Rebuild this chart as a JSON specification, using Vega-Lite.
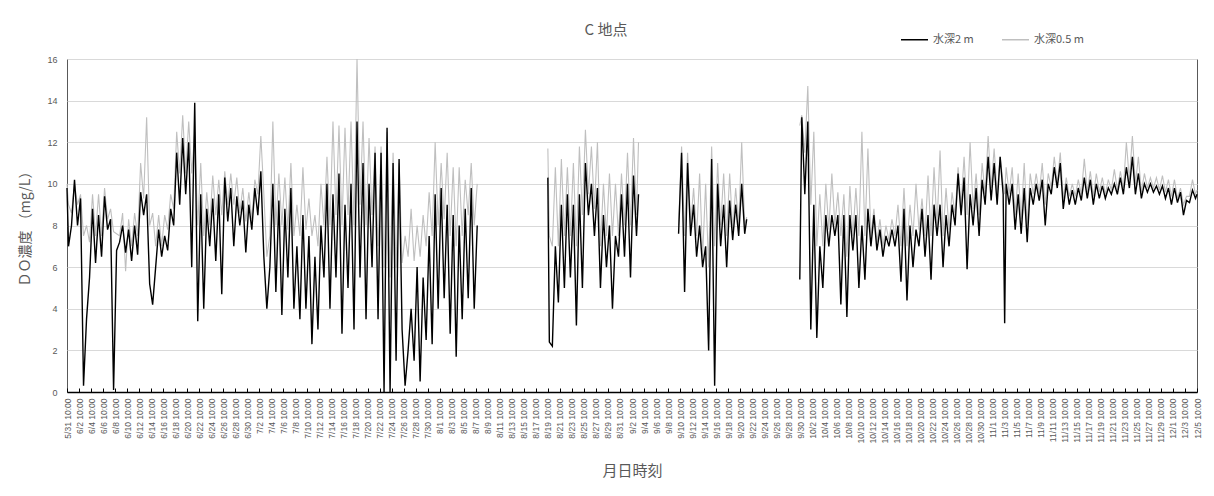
{
"$schema":"https://vega.github.io/schema/vega-lite/v6.json",
"width":1130,"height":333,
"autosize":{"type":"none"},
"padding":{"left":67,"top":59,"right":17,"bottom":104},
"background":"white",
"title":{"text":"C 地点","fontSize":15,"font":"Noto Sans CJK JP","fontWeight":"normal","color":"#595959","anchor":"middle","frame":"group","dx":-26,"dy":34,"offset":21},
"config":{"view":{"stroke":"#595959","strokeWidth":1},"font":"Noto Sans CJK JP"},
"data":{"values":[
{"t":"2021-05-31T10:00Z","m2":9.8,"m05":10.0},{"t":"2021-05-31T16:00Z","m2":7.0,"m05":9.0},
{"t":"2021-06-01T04:00Z","m2":8.0,"m05":8.6},{"t":"2021-06-01T16:00Z","m2":10.2,"m05":10.0},
{"t":"2021-06-02T04:00Z","m2":8.0,"m05":9.0},{"t":"2021-06-02T16:00Z","m2":9.3,"m05":9.5},
{"t":"2021-06-03T04:00Z","m2":0.3,"m05":7.5},{"t":"2021-06-03T16:00Z","m2":3.5,"m05":8.0},
{"t":"2021-06-04T04:00Z","m2":5.5,"m05":7.2},{"t":"2021-06-04T16:00Z","m2":8.8,"m05":9.5},
{"t":"2021-06-05T04:00Z","m2":6.2,"m05":7.5},{"t":"2021-06-05T16:00Z","m2":8.5,"m05":9.5},
{"t":"2021-06-06T04:00Z","m2":6.5,"m05":7.5},{"t":"2021-06-06T16:00Z","m2":9.4,"m05":9.8},
{"t":"2021-06-07T04:00Z","m2":7.8,"m05":8.3},{"t":"2021-06-07T16:00Z","m2":8.3,"m05":8.8},
{"t":"2021-06-08T04:00Z","m2":0.1,"m05":7.7},{"t":"2021-06-08T16:00Z","m2":6.8,"m05":7.6},
{"t":"2021-06-09T04:00Z","m2":7.2,"m05":7.5},{"t":"2021-06-09T16:00Z","m2":8.0,"m05":8.6},
{"t":"2021-06-10T04:00Z","m2":6.7,"m05":5.8},{"t":"2021-06-10T16:00Z","m2":7.8,"m05":8.3},
{"t":"2021-06-11T04:00Z","m2":6.3,"m05":7.0},{"t":"2021-06-11T16:00Z","m2":8.0,"m05":8.6},
{"t":"2021-06-12T04:00Z","m2":6.6,"m05":7.5},{"t":"2021-06-12T16:00Z","m2":9.6,"m05":11.0},
{"t":"2021-06-13T04:00Z","m2":8.5,"m05":9.3},{"t":"2021-06-13T16:00Z","m2":9.5,"m05":13.2},
{"t":"2021-06-14T04:00Z","m2":5.2,"m05":8.0},{"t":"2021-06-14T16:00Z","m2":4.2,"m05":8.6},
{"t":"2021-06-15T04:00Z","m2":6.0,"m05":7.0},{"t":"2021-06-15T16:00Z","m2":7.8,"m05":8.5},
{"t":"2021-06-16T04:00Z","m2":6.5,"m05":7.0},{"t":"2021-06-16T16:00Z","m2":7.5,"m05":8.5},
{"t":"2021-06-17T04:00Z","m2":6.8,"m05":7.8},{"t":"2021-06-17T16:00Z","m2":8.8,"m05":9.5},
{"t":"2021-06-18T04:00Z","m2":8.0,"m05":8.8},{"t":"2021-06-18T16:00Z","m2":11.5,"m05":12.5},
{"t":"2021-06-19T04:00Z","m2":9.0,"m05":10.5},{"t":"2021-06-19T16:00Z","m2":12.2,"m05":13.3},
{"t":"2021-06-20T04:00Z","m2":9.5,"m05":10.5},{"t":"2021-06-20T16:00Z","m2":12.0,"m05":13.0},
{"t":"2021-06-21T04:00Z","m2":6.0,"m05":10.5},{"t":"2021-06-21T16:00Z","m2":13.9,"m05":12.5},
{"t":"2021-06-22T04:00Z","m2":3.4,"m05":8.0},{"t":"2021-06-22T16:00Z","m2":9.5,"m05":11.0},
{"t":"2021-06-23T04:00Z","m2":4.0,"m05":7.5},{"t":"2021-06-23T16:00Z","m2":8.8,"m05":9.6},
{"t":"2021-06-24T04:00Z","m2":7.0,"m05":8.0},{"t":"2021-06-24T16:00Z","m2":9.3,"m05":10.4},
{"t":"2021-06-25T04:00Z","m2":6.3,"m05":8.5},{"t":"2021-06-25T16:00Z","m2":9.5,"m05":10.2},
{"t":"2021-06-26T04:00Z","m2":4.7,"m05":8.5},{"t":"2021-06-26T16:00Z","m2":10.3,"m05":10.6},
{"t":"2021-06-27T04:00Z","m2":8.2,"m05":9.0},{"t":"2021-06-27T16:00Z","m2":9.8,"m05":10.5},
{"t":"2021-06-28T04:00Z","m2":7.0,"m05":9.0},{"t":"2021-06-28T16:00Z","m2":9.4,"m05":10.3},
{"t":"2021-06-29T04:00Z","m2":8.0,"m05":8.6},{"t":"2021-06-29T16:00Z","m2":9.2,"m05":9.8},
{"t":"2021-06-30T04:00Z","m2":6.7,"m05":8.2},{"t":"2021-06-30T16:00Z","m2":9.0,"m05":9.6},
{"t":"2021-07-01T04:00Z","m2":7.8,"m05":8.3},{"t":"2021-07-01T16:00Z","m2":9.8,"m05":10.2},
{"t":"2021-07-02T04:00Z","m2":8.5,"m05":9.5},{"t":"2021-07-02T16:00Z","m2":10.6,"m05":12.3},
{"t":"2021-07-03T04:00Z","m2":6.5,"m05":9.5},{"t":"2021-07-03T16:00Z","m2":4.0,"m05":6.5},
{"t":"2021-07-04T04:00Z","m2":6.0,"m05":7.5},{"t":"2021-07-04T16:00Z","m2":10.0,"m05":13.0},
{"t":"2021-07-05T04:00Z","m2":4.8,"m05":8.0},{"t":"2021-07-05T16:00Z","m2":9.2,"m05":10.5},
{"t":"2021-07-06T04:00Z","m2":3.7,"m05":8.0},{"t":"2021-07-06T16:00Z","m2":8.8,"m05":10.3},
{"t":"2021-07-07T04:00Z","m2":5.5,"m05":7.8},{"t":"2021-07-07T16:00Z","m2":9.8,"m05":11.0},
{"t":"2021-07-08T04:00Z","m2":4.0,"m05":7.5},{"t":"2021-07-08T16:00Z","m2":7.0,"m05":9.0},
{"t":"2021-07-09T04:00Z","m2":3.5,"m05":7.5},{"t":"2021-07-09T16:00Z","m2":8.5,"m05":10.8},
{"t":"2021-07-10T04:00Z","m2":4.0,"m05":7.8},{"t":"2021-07-10T16:00Z","m2":7.5,"m05":9.3},
{"t":"2021-07-11T04:00Z","m2":2.3,"m05":7.5},{"t":"2021-07-11T16:00Z","m2":6.5,"m05":8.5},
{"t":"2021-07-12T04:00Z","m2":3.0,"m05":7.0},{"t":"2021-07-12T16:00Z","m2":8.0,"m05":10.0},
{"t":"2021-07-13T04:00Z","m2":5.5,"m05":8.0},{"t":"2021-07-13T16:00Z","m2":10.0,"m05":11.3},
{"t":"2021-07-14T04:00Z","m2":4.0,"m05":8.0},{"t":"2021-07-14T16:00Z","m2":9.5,"m05":13.0},
{"t":"2021-07-15T04:00Z","m2":5.5,"m05":8.5},{"t":"2021-07-15T16:00Z","m2":10.5,"m05":12.8},
{"t":"2021-07-16T04:00Z","m2":2.8,"m05":8.0},{"t":"2021-07-16T16:00Z","m2":9.0,"m05":12.7},
{"t":"2021-07-17T04:00Z","m2":5.0,"m05":8.5},{"t":"2021-07-17T16:00Z","m2":10.0,"m05":13.0},
{"t":"2021-07-18T04:00Z","m2":3.0,"m05":8.0},{"t":"2021-07-18T16:00Z","m2":13.0,"m05":16.0},
{"t":"2021-07-19T04:00Z","m2":5.5,"m05":9.0},{"t":"2021-07-19T16:00Z","m2":11.0,"m05":13.0},
{"t":"2021-07-20T04:00Z","m2":3.5,"m05":8.0},{"t":"2021-07-20T16:00Z","m2":10.0,"m05":12.2},
{"t":"2021-07-21T04:00Z","m2":6.0,"m05":8.5},{"t":"2021-07-21T16:00Z","m2":11.5,"m05":11.8},
{"t":"2021-07-22T04:00Z","m2":3.5,"m05":7.0},{"t":"2021-07-22T16:00Z","m2":11.5,"m05":11.8},
{"t":"2021-07-23T04:00Z","m2":0.0,"m05":6.0},{"t":"2021-07-23T16:00Z","m2":12.7,"m05":12.5},
{"t":"2021-07-24T04:00Z","m2":0.0,"m05":5.5},{"t":"2021-07-24T16:00Z","m2":11.0,"m05":11.5},
{"t":"2021-07-25T04:00Z","m2":1.5,"m05":6.0},{"t":"2021-07-25T16:00Z","m2":11.2,"m05":11.0},
{"t":"2021-07-26T04:00Z","m2":3.0,"m05":6.2},{"t":"2021-07-26T16:00Z","m2":0.3,"m05":7.5},
{"t":"2021-07-27T04:00Z","m2":2.0,"m05":6.5},{"t":"2021-07-27T16:00Z","m2":4.0,"m05":8.8},
{"t":"2021-07-28T04:00Z","m2":1.5,"m05":6.3},{"t":"2021-07-28T16:00Z","m2":6.0,"m05":8.0},
{"t":"2021-07-29T04:00Z","m2":0.5,"m05":6.5},{"t":"2021-07-29T16:00Z","m2":5.5,"m05":8.5},
{"t":"2021-07-30T04:00Z","m2":2.5,"m05":7.0},{"t":"2021-07-30T16:00Z","m2":7.5,"m05":9.6},
{"t":"2021-07-31T04:00Z","m2":2.3,"m05":7.5},{"t":"2021-07-31T16:00Z","m2":9.5,"m05":12.0},
{"t":"2021-08-01T04:00Z","m2":4.0,"m05":8.0},{"t":"2021-08-01T16:00Z","m2":9.8,"m05":11.0},
{"t":"2021-08-02T04:00Z","m2":4.5,"m05":8.3},{"t":"2021-08-02T16:00Z","m2":9.0,"m05":11.5},
{"t":"2021-08-03T04:00Z","m2":2.8,"m05":7.5},{"t":"2021-08-03T16:00Z","m2":8.5,"m05":10.8},
{"t":"2021-08-04T04:00Z","m2":1.7,"m05":7.0},{"t":"2021-08-04T16:00Z","m2":8.0,"m05":10.8},
{"t":"2021-08-05T04:00Z","m2":3.5,"m05":7.5},{"t":"2021-08-05T16:00Z","m2":8.8,"m05":10.2},
{"t":"2021-08-06T04:00Z","m2":4.5,"m05":8.5},{"t":"2021-08-06T16:00Z","m2":9.8,"m05":11.0},
{"t":"2021-08-07T04:00Z","m2":4.0,"m05":8.0},{"t":"2021-08-07T16:00Z","m2":8.0,"m05":10.0},
{"t":"2021-08-13T10:00Z","m2":null,"m05":null},
{"t":"2021-08-19T10:00Z","m2":10.3,"m05":11.7},{"t":"2021-08-19T16:00Z","m2":2.4,"m05":7.5},
{"t":"2021-08-20T04:00Z","m2":2.2,"m05":7.0},{"t":"2021-08-20T16:00Z","m2":7.0,"m05":10.8},
{"t":"2021-08-21T04:00Z","m2":4.3,"m05":7.0},{"t":"2021-08-21T16:00Z","m2":9.0,"m05":11.2},
{"t":"2021-08-22T04:00Z","m2":5.0,"m05":7.5},{"t":"2021-08-22T16:00Z","m2":9.5,"m05":10.8},
{"t":"2021-08-23T04:00Z","m2":5.5,"m05":7.5},{"t":"2021-08-23T16:00Z","m2":9.0,"m05":11.0},
{"t":"2021-08-24T04:00Z","m2":3.2,"m05":7.0},{"t":"2021-08-24T16:00Z","m2":9.5,"m05":11.8},
{"t":"2021-08-25T04:00Z","m2":5.0,"m05":8.5},{"t":"2021-08-25T16:00Z","m2":11.0,"m05":12.6},
{"t":"2021-08-26T04:00Z","m2":8.5,"m05":9.5},{"t":"2021-08-26T16:00Z","m2":10.0,"m05":11.8},
{"t":"2021-08-27T04:00Z","m2":7.5,"m05":8.8},{"t":"2021-08-27T16:00Z","m2":9.8,"m05":12.0},
{"t":"2021-08-28T04:00Z","m2":5.0,"m05":7.0},{"t":"2021-08-28T16:00Z","m2":8.5,"m05":10.0},
{"t":"2021-08-29T04:00Z","m2":6.0,"m05":7.5},{"t":"2021-08-29T16:00Z","m2":8.0,"m05":10.5},
{"t":"2021-08-30T04:00Z","m2":4.0,"m05":7.5},{"t":"2021-08-30T16:00Z","m2":7.5,"m05":10.0},
{"t":"2021-08-31T04:00Z","m2":6.5,"m05":7.5},{"t":"2021-08-31T16:00Z","m2":9.5,"m05":10.5},
{"t":"2021-09-01T04:00Z","m2":6.5,"m05":8.0},{"t":"2021-09-01T16:00Z","m2":10.0,"m05":11.5},
{"t":"2021-09-02T04:00Z","m2":5.5,"m05":8.0},{"t":"2021-09-02T16:00Z","m2":10.4,"m05":12.2},
{"t":"2021-09-03T04:00Z","m2":7.5,"m05":8.5},{"t":"2021-09-03T12:00Z","m2":9.5,"m05":12.0},
{"t":"2021-09-06T10:00Z","m2":null,"m05":null},
{"t":"2021-09-10T04:00Z","m2":7.6,"m05":8.0},{"t":"2021-09-10T16:00Z","m2":11.5,"m05":11.8},
{"t":"2021-09-11T04:00Z","m2":4.8,"m05":7.5},{"t":"2021-09-11T16:00Z","m2":11.0,"m05":11.5},
{"t":"2021-09-12T04:00Z","m2":7.5,"m05":8.0},{"t":"2021-09-12T16:00Z","m2":9.0,"m05":9.8},
{"t":"2021-09-13T04:00Z","m2":6.5,"m05":7.5},{"t":"2021-09-13T16:00Z","m2":8.0,"m05":10.5},
{"t":"2021-09-14T04:00Z","m2":6.0,"m05":6.5},{"t":"2021-09-14T16:00Z","m2":7.0,"m05":10.0},
{"t":"2021-09-15T04:00Z","m2":2.0,"m05":6.0},{"t":"2021-09-15T16:00Z","m2":11.2,"m05":11.8},
{"t":"2021-09-16T04:00Z","m2":0.3,"m05":7.0},{"t":"2021-09-16T16:00Z","m2":10.0,"m05":11.0},
{"t":"2021-09-17T04:00Z","m2":7.0,"m05":8.0},{"t":"2021-09-17T16:00Z","m2":9.0,"m05":10.5},
{"t":"2021-09-18T04:00Z","m2":6.0,"m05":7.5},{"t":"2021-09-18T16:00Z","m2":9.2,"m05":10.5},
{"t":"2021-09-19T04:00Z","m2":7.3,"m05":7.8},{"t":"2021-09-19T16:00Z","m2":9.0,"m05":9.8},
{"t":"2021-09-20T04:00Z","m2":7.5,"m05":8.0},{"t":"2021-09-20T16:00Z","m2":10.0,"m05":12.0},
{"t":"2021-09-21T04:00Z","m2":7.6,"m05":8.0},{"t":"2021-09-21T12:00Z","m2":8.3,"m05":8.4},
{"t":"2021-09-25T10:00Z","m2":null,"m05":null},
{"t":"2021-09-30T08:00Z","m2":5.4,"m05":12.8},{"t":"2021-09-30T16:00Z","m2":13.2,"m05":13.3},
{"t":"2021-10-01T04:00Z","m2":9.5,"m05":11.5},{"t":"2021-10-01T16:00Z","m2":13.0,"m05":14.7},
{"t":"2021-10-02T04:00Z","m2":3.0,"m05":9.0},{"t":"2021-10-02T16:00Z","m2":9.0,"m05":12.5},
{"t":"2021-10-03T04:00Z","m2":2.6,"m05":7.0},{"t":"2021-10-03T16:00Z","m2":7.0,"m05":9.5},
{"t":"2021-10-04T04:00Z","m2":5.0,"m05":7.0},{"t":"2021-10-04T16:00Z","m2":8.5,"m05":10.0},
{"t":"2021-10-05T04:00Z","m2":7.0,"m05":7.8},{"t":"2021-10-05T16:00Z","m2":8.5,"m05":10.5},
{"t":"2021-10-06T04:00Z","m2":7.5,"m05":8.0},{"t":"2021-10-06T16:00Z","m2":8.5,"m05":9.6},
{"t":"2021-10-07T04:00Z","m2":4.2,"m05":7.5},{"t":"2021-10-07T16:00Z","m2":8.5,"m05":9.5},
{"t":"2021-10-08T04:00Z","m2":3.6,"m05":6.5},{"t":"2021-10-08T16:00Z","m2":8.5,"m05":9.9},
{"t":"2021-10-09T04:00Z","m2":6.8,"m05":7.5},{"t":"2021-10-09T16:00Z","m2":8.5,"m05":9.8},
{"t":"2021-10-10T04:00Z","m2":5.0,"m05":7.5},{"t":"2021-10-10T16:00Z","m2":8.0,"m05":12.5},
{"t":"2021-10-11T04:00Z","m2":5.4,"m05":7.5},{"t":"2021-10-11T16:00Z","m2":8.8,"m05":11.7},
{"t":"2021-10-12T04:00Z","m2":7.0,"m05":7.5},{"t":"2021-10-12T16:00Z","m2":8.5,"m05":8.8},
{"t":"2021-10-13T04:00Z","m2":6.8,"m05":7.2},{"t":"2021-10-13T16:00Z","m2":7.8,"m05":8.3},
{"t":"2021-10-14T04:00Z","m2":6.5,"m05":7.0},{"t":"2021-10-14T16:00Z","m2":7.5,"m05":8.0},
{"t":"2021-10-15T04:00Z","m2":7.0,"m05":7.3},{"t":"2021-10-15T16:00Z","m2":7.8,"m05":8.3},
{"t":"2021-10-16T04:00Z","m2":7.0,"m05":7.5},{"t":"2021-10-16T16:00Z","m2":8.0,"m05":9.0},
{"t":"2021-10-17T04:00Z","m2":5.3,"m05":7.0},{"t":"2021-10-17T16:00Z","m2":8.8,"m05":9.8},
{"t":"2021-10-18T04:00Z","m2":4.4,"m05":7.0},{"t":"2021-10-18T16:00Z","m2":8.0,"m05":9.0},
{"t":"2021-10-19T04:00Z","m2":6.0,"m05":7.5},{"t":"2021-10-19T16:00Z","m2":7.8,"m05":10.0},
{"t":"2021-10-20T04:00Z","m2":7.0,"m05":7.8},{"t":"2021-10-20T16:00Z","m2":8.8,"m05":9.3},
{"t":"2021-10-21T04:00Z","m2":6.5,"m05":7.5},{"t":"2021-10-21T16:00Z","m2":8.5,"m05":10.4},
{"t":"2021-10-22T04:00Z","m2":5.4,"m05":7.5},{"t":"2021-10-22T16:00Z","m2":9.0,"m05":10.8},
{"t":"2021-10-23T04:00Z","m2":7.5,"m05":8.0},{"t":"2021-10-23T16:00Z","m2":9.0,"m05":11.6},
{"t":"2021-10-24T04:00Z","m2":6.0,"m05":7.5},{"t":"2021-10-24T16:00Z","m2":8.5,"m05":9.8},
{"t":"2021-10-25T04:00Z","m2":7.0,"m05":7.8},{"t":"2021-10-25T16:00Z","m2":9.0,"m05":9.6},
{"t":"2021-10-26T04:00Z","m2":8.0,"m05":8.5},{"t":"2021-10-26T16:00Z","m2":10.5,"m05":10.8},
{"t":"2021-10-27T04:00Z","m2":8.5,"m05":9.0},{"t":"2021-10-27T16:00Z","m2":10.3,"m05":11.3},
{"t":"2021-10-28T04:00Z","m2":5.9,"m05":8.5},{"t":"2021-10-28T16:00Z","m2":9.5,"m05":12.0},
{"t":"2021-10-29T04:00Z","m2":8.0,"m05":8.8},{"t":"2021-10-29T16:00Z","m2":9.8,"m05":10.5},
{"t":"2021-10-30T04:00Z","m2":7.5,"m05":8.5},{"t":"2021-10-30T16:00Z","m2":10.2,"m05":11.0},
{"t":"2021-10-31T04:00Z","m2":9.0,"m05":9.5},{"t":"2021-10-31T16:00Z","m2":11.3,"m05":12.3},
{"t":"2021-11-01T04:00Z","m2":9.2,"m05":9.8},{"t":"2021-11-01T16:00Z","m2":11.0,"m05":11.7},
{"t":"2021-11-02T04:00Z","m2":9.0,"m05":9.5},{"t":"2021-11-02T16:00Z","m2":11.3,"m05":11.3},
{"t":"2021-11-03T04:00Z","m2":9.5,"m05":10.0},{"t":"2021-11-03T10:00Z","m2":3.3,"m05":9.5},{"t":"2021-11-03T16:00Z","m2":10.0,"m05":10.8},
{"t":"2021-11-04T04:00Z","m2":9.0,"m05":9.5},{"t":"2021-11-04T16:00Z","m2":10.0,"m05":10.8},
{"t":"2021-11-05T04:00Z","m2":7.8,"m05":8.5},{"t":"2021-11-05T16:00Z","m2":9.5,"m05":10.5},
{"t":"2021-11-06T04:00Z","m2":7.6,"m05":8.3},{"t":"2021-11-06T16:00Z","m2":9.8,"m05":11.0},
{"t":"2021-11-07T04:00Z","m2":7.2,"m05":8.0},{"t":"2021-11-07T16:00Z","m2":9.8,"m05":10.5},
{"t":"2021-11-08T04:00Z","m2":9.0,"m05":9.5},{"t":"2021-11-08T16:00Z","m2":10.0,"m05":10.5},
{"t":"2021-11-09T04:00Z","m2":9.2,"m05":9.5},{"t":"2021-11-09T16:00Z","m2":10.2,"m05":11.0},
{"t":"2021-11-10T04:00Z","m2":8.0,"m05":9.0},{"t":"2021-11-10T16:00Z","m2":10.0,"m05":10.5},
{"t":"2021-11-11T04:00Z","m2":9.5,"m05":9.8},{"t":"2021-11-11T16:00Z","m2":10.8,"m05":11.3},
{"t":"2021-11-12T04:00Z","m2":9.8,"m05":10.0},{"t":"2021-11-12T16:00Z","m2":11.0,"m05":11.5},
{"t":"2021-11-13T04:00Z","m2":8.8,"m05":9.3},{"t":"2021-11-13T16:00Z","m2":10.0,"m05":10.3},
{"t":"2021-11-14T04:00Z","m2":9.0,"m05":9.4},{"t":"2021-11-14T16:00Z","m2":9.7,"m05":10.0},
{"t":"2021-11-15T04:00Z","m2":9.0,"m05":9.4},{"t":"2021-11-15T16:00Z","m2":9.8,"m05":10.2},
{"t":"2021-11-16T04:00Z","m2":9.2,"m05":9.5},{"t":"2021-11-16T16:00Z","m2":10.3,"m05":11.2},
{"t":"2021-11-17T04:00Z","m2":9.3,"m05":9.6},{"t":"2021-11-17T16:00Z","m2":10.2,"m05":10.6},
{"t":"2021-11-18T04:00Z","m2":9.0,"m05":9.4},{"t":"2021-11-18T16:00Z","m2":10.0,"m05":10.5},
{"t":"2021-11-19T04:00Z","m2":9.3,"m05":9.6},{"t":"2021-11-19T16:00Z","m2":9.9,"m05":10.3},
{"t":"2021-11-20T04:00Z","m2":9.3,"m05":9.5},{"t":"2021-11-20T16:00Z","m2":9.8,"m05":10.2},
{"t":"2021-11-21T04:00Z","m2":9.5,"m05":9.7},{"t":"2021-11-21T16:00Z","m2":10.0,"m05":10.7},
{"t":"2021-11-22T04:00Z","m2":9.5,"m05":9.7},{"t":"2021-11-22T16:00Z","m2":10.3,"m05":10.6},
{"t":"2021-11-23T04:00Z","m2":9.5,"m05":9.8},{"t":"2021-11-23T16:00Z","m2":10.8,"m05":12.0},
{"t":"2021-11-24T04:00Z","m2":9.8,"m05":10.2},{"t":"2021-11-24T16:00Z","m2":11.3,"m05":12.3},
{"t":"2021-11-25T04:00Z","m2":9.5,"m05":10.0},{"t":"2021-11-25T16:00Z","m2":10.5,"m05":11.3},
{"t":"2021-11-26T04:00Z","m2":9.3,"m05":9.6},{"t":"2021-11-26T16:00Z","m2":10.0,"m05":10.5},
{"t":"2021-11-27T04:00Z","m2":9.6,"m05":9.8},{"t":"2021-11-27T16:00Z","m2":10.0,"m05":10.3},
{"t":"2021-11-28T04:00Z","m2":9.6,"m05":9.8},{"t":"2021-11-28T16:00Z","m2":9.9,"m05":10.3},
{"t":"2021-11-29T04:00Z","m2":9.5,"m05":9.7},{"t":"2021-11-29T16:00Z","m2":9.9,"m05":10.4},
{"t":"2021-11-30T04:00Z","m2":9.3,"m05":9.6},{"t":"2021-11-30T16:00Z","m2":9.8,"m05":10.2},
{"t":"2021-12-01T04:00Z","m2":9.0,"m05":9.4},{"t":"2021-12-01T16:00Z","m2":9.8,"m05":10.2},
{"t":"2021-12-02T04:00Z","m2":9.1,"m05":9.3},{"t":"2021-12-02T16:00Z","m2":9.6,"m05":9.8},
{"t":"2021-12-03T04:00Z","m2":8.5,"m05":9.0},{"t":"2021-12-03T16:00Z","m2":9.2,"m05":9.4},
{"t":"2021-12-04T04:00Z","m2":9.1,"m05":9.4},{"t":"2021-12-04T16:00Z","m2":9.7,"m05":10.2},
{"t":"2021-12-05T04:00Z","m2":9.3,"m05":9.5},{"t":"2021-12-05T10:00Z","m2":9.5,"m05":9.7}
]},
"encoding":{"x":{"field":"t","type":"temporal",
 "scale":{"type":"utc","domain":[1622455200000,1638698400000]},
 "axis":{"title":"月日時刻","titleFontSize":15,"titleFont":"Noto Sans CJK JP","titleFontWeight":"normal","titleColor":"#595959","titleY":78,"titleBaseline":"middle",
  "values":[1622455200000,1622628000000,1622800800000,1622973600000,1623146400000,1623319200000,1623492000000,1623664800000,1623837600000,1624010400000,1624183200000,1624356000000,1624528800000,1624701600000,1624874400000,1625047200000,1625220000000,1625392800000,1625565600000,1625738400000,1625911200000,1626084000000,1626256800000,1626429600000,1626602400000,1626775200000,1626948000000,1627120800000,1627293600000,1627466400000,1627639200000,1627812000000,1627984800000,1628157600000,1628330400000,1628503200000,1628676000000,1628848800000,1629021600000,1629194400000,1629367200000,1629540000000,1629712800000,1629885600000,1630058400000,1630231200000,1630404000000,1630576800000,1630749600000,1630922400000,1631095200000,1631268000000,1631440800000,1631613600000,1631786400000,1631959200000,1632132000000,1632304800000,1632477600000,1632650400000,1632823200000,1632996000000,1633168800000,1633341600000,1633514400000,1633687200000,1633860000000,1634032800000,1634205600000,1634378400000,1634551200000,1634724000000,1634896800000,1635069600000,1635242400000,1635415200000,1635588000000,1635760800000,1635933600000,1636106400000,1636279200000,1636452000000,1636624800000,1636797600000,1636970400000,1637143200000,1637316000000,1637488800000,1637661600000,1637834400000,1638007200000,1638180000000,1638352800000,1638525600000,1638698400000],
  "format":"%-m/%-d %H:%M","labelAngle":270,"labelFontSize":8.5,"labelFont":"Liberation Sans","labelColor":"#595959","labelPadding":10,"labelOverlap":false,"labelFlush":false,"labelBound":false,
  "tickSize":-4,"tickColor":"#000000","domainColor":"#000000","domainWidth":1.5,"grid":false}}},
"layer":[
 {"mark":{"type":"line","strokeWidth":1.1,"invalid":"break-paths-show-domains"},
  "encoding":{
   "y":{"field":"m05","type":"quantitative","title":"ＤＯ濃度 （mg/L）",
    "scale":{"domain":[0,16],"nice":false},
    "axis":{"title":"ＤＯ濃度 （mg/L）","titleFontSize":14,"titleFont":"Noto Sans CJK JP","titleFontWeight":"normal","titleColor":"#595959","titleX":-42,"titleY":166,"titleAngle":270,"titleBaseline":"middle","titleAlign":"center",
     "values":[0,2,4,6,8,10,12,14,16],"labelFontSize":9,"labelFont":"Liberation Sans","labelColor":"#595959","ticks":false,"labelPadding":10,"domain":false,"grid":true,"gridColor":"#d9d9d9","gridWidth":1}},
   "color":{"datum":"水深0.5 m","type":"nominal",
    "scale":{"domain":["水深2 m","水深0.5 m"],"range":["#000000","#bfbfbf"]},
    "legend":{"orient":"none","legendX":833,"legendY":-34,"direction":"horizontal","title":null,"symbolType":"stroke","symbolSize":729,"symbolStrokeWidth":1.5,"labelFontSize":11,"labelColor":"#595959","labelFont":"Noto Sans CJK JP","columnPadding":25,"labelOffset":4,"padding":0}}}},
 {"mark":{"type":"line","strokeWidth":1.4,"invalid":"break-paths-show-domains"},
  "encoding":{
   "y":{"field":"m2","type":"quantitative","title":"ＤＯ濃度 （mg/L）"},
   "color":{"datum":"水深2 m","type":"nominal"}}}
]
}
